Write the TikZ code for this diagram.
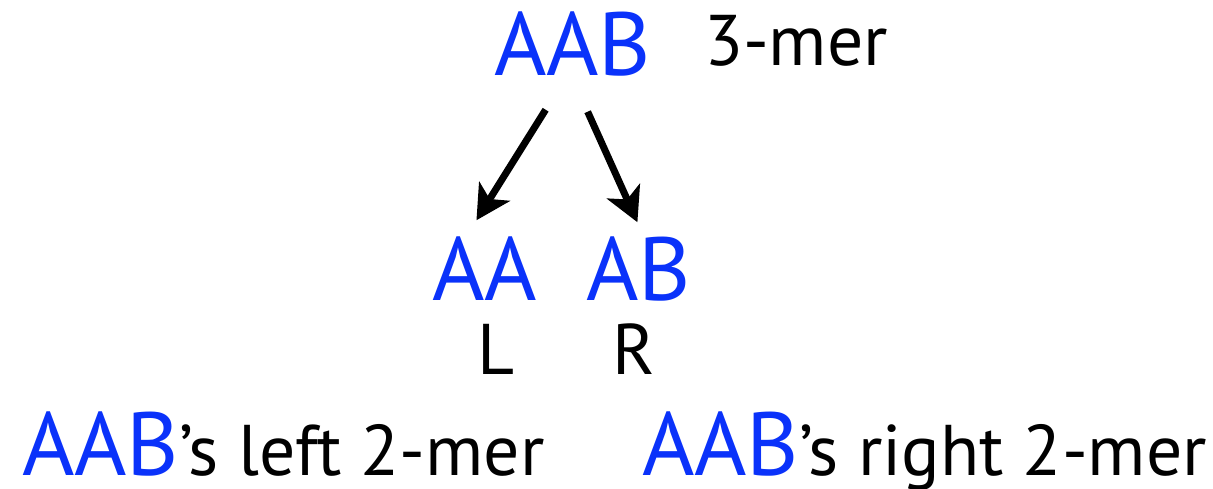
\documentclass[tikz,border=0pt]{standalone}
\usepackage{fontspec}
\setmainfont{PT Sans}
\usetikzlibrary{arrows.meta,calc}
\definecolor{kblue}{RGB}{10,50,250}
\newcommand{\bigtxt}{\fontsize{90}{100}\selectfont}
\newcommand{\smalltxt}{\fontsize{72}{80}\selectfont}
\begin{document}
\begin{tikzpicture}[x=1bp,y=-1bp,
  lbl/.style={inner sep=0pt,outer sep=0pt,anchor=base west},
  kmer/.style={lbl,text=kblue,font=\bigtxt},
  note/.style={lbl,text=black,font=\smalltxt},
  arr/.style={-{Stealth[length=34bp,width=36bp,inset=9bp]},line width=7bp}]
\useasboundingbox[fill=white] (0,0) rectangle (1213,489);
\node[kmer] (top) at (494,76) {AAB};
\node[note] (mer3) at (704,66) {3-mer};
\node[kmer] (aa) at (432,301) {AA};
\node[kmer] (ab) at (586,301) {AB};
\node[note] (l) at (477,375) {L};
\node[note] (r) at (612,375) {R};
\node[note] (bl) at (22,475) {{\bigtxt\color{kblue}AAB}’s left 2-mer};
\node[note] (br) at (642,475) {{\bigtxt\color{kblue}AAB}’s right 2-mer};
\draw[arr] ($(top.south)+(-27,33)$) -- ($(aa.north)+(-8,-17)$);
\draw[arr] ($(top.south)+(15,35)$) -- ($(ab.north)+(-1,-15)$);
\end{tikzpicture}
\end{document}
